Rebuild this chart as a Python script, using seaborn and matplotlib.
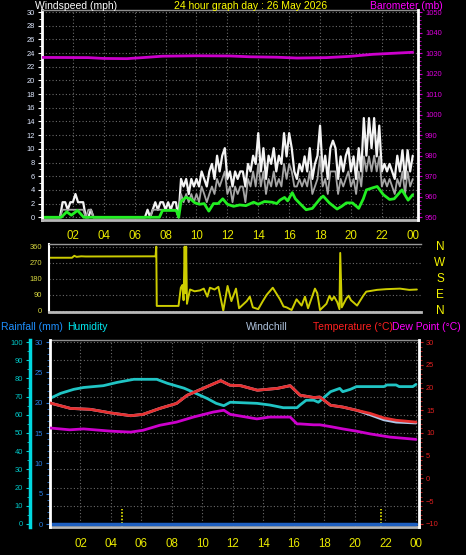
import numpy as np
import pandas as pd
import seaborn as sns
import matplotlib.pyplot as plt
from matplotlib.ticker import MultipleLocator

sns.set_style('dark')
plt.rcParams['font.family'] = ['Liberation Sans', 'DejaVu Sans']

# ---- windspeed, 10 minute samples (mph) ----
gust = [0, 0, 0, 0, 0, 0,            # 00
        0, 0, 2.2, 2.2, 1.1, 2.2,    # 01
        2.2, 3.4, 2.2, 2.2, 2.2, 0,  # 02
        0, 1.1, 0, 0, 0, 0,          # 03
        0, 0, 0, 0, 0, 0,            # 04
        0, 0, 0, 0, 0, 0,            # 05
        0, 0, 0, 0, 0, 1.1,          # 06
        0, 1.1, 2.2, 1.1, 2.2, 2.2,  # 07
        1.1, 2.2, 1.1, 2.2, 2.2, 0,  # 08
        5.6, 4.5, 5.6, 3.4, 5.6, 4.5,
        5.6, 4.5, 6.7, 5.6, 4.5, 6.7,
        7.8, 5.6, 9.0, 6.7, 9.0, 10.1,
        5.6, 6.7, 4.5, 6.7, 5.6, 6.7,
        6.7, 4.5, 7.8, 6.7, 9.0, 7.8,
        12.3, 6.7, 10.1, 5.6, 9.0, 7.8,
        10.1, 6.7, 9.0, 7.8, 12.3, 8.9,
        12.3, 10.1, 6.7, 5.6, 7.8, 6.7,
        8.9, 6.7, 10.1, 5.6, 7.8, 9.0,
        13.4, 6.7, 9.0, 5.6, 10.1, 11.2,
        10.1, 5.6, 8.9, 6.7, 9.0, 10.1,
        6.7, 8.9, 5.6, 10.1, 6.7, 14.5,
        9.0, 14.5, 10.1, 14.5, 8.9, 13.4,
        6.7, 7.8, 6.7, 7.8, 6.7, 5.6,
        9.0, 6.7, 9.8, 5.6, 9.8, 6.7,
        9.0]
speed = [0, 0, 0, 0, 0, 0,
         0, 0, 1.1, 1.1, 1.1, 1.1,
         1.1, 1.1, 1.1, 1.1, 1.1, 0,
         1.1, 1.1, 0, 0, 0, 0,
         0, 0, 0, 0, 0, 0,
         0, 0, 0, 0, 0, 0,
         0, 0, 0, 0, 0, 0,
         0, 1.1, 1.1, 1.1, 1.1, 1.1,
         1.1, 1.1, 1.1, 1.1, 1.1, 0,
         3.4, 2.2, 3.4, 2.2, 3.4, 2.2,
         3.4, 2.2, 4.5, 3.4, 2.2, 3.4,
         4.5, 3.4, 5.6, 4.5, 5.6, 6.7,
         3.4, 4.5, 2.2, 4.5, 3.4, 4.5,
         4.5, 2.2, 5.6, 4.5, 6.7, 4.5,
         7.8, 4.5, 6.7, 3.4, 5.6, 4.5,
         6.7, 4.5, 5.6, 4.5, 7.8, 5.6,
         7.8, 6.7, 4.5, 4.5, 5.6, 4.5,
         5.6, 4.5, 6.7, 3.4, 4.5, 5.6,
         8.9, 4.5, 5.6, 3.4, 6.7, 6.7,
         6.7, 3.4, 5.6, 4.5, 5.6, 6.7,
         4.5, 5.6, 3.4, 6.7, 4.5, 8.9,
         6.7, 8.9, 6.7, 9.0, 6.7, 8.9,
         4.5, 5.6, 4.5, 5.6, 4.5, 3.4,
         5.6, 4.5, 6.7, 3.4, 6.7, 4.5,
         5.6]
wind_hours = np.linspace(0, 24, len(gust))

avg_hours = [0, 1.25, 1.6, 1.9, 2.3, 2.7, 7.6, 7.8, 8.7, 8.85, 9.0, 9.3, 9.6, 9.9,
             10.2, 10.5, 10.8, 11.1, 11.4, 11.7, 12.0, 12.4, 12.8, 13.2, 13.7, 14.0,
             14.4, 14.9, 15.2, 15.4, 15.7, 15.9, 16.2, 16.4, 16.7, 17.1, 17.5, 18.0,
             18.2, 18.6, 19.1, 19.4, 19.7, 20.1, 20.5, 20.8, 21.0, 21.4, 21.7, 22.1,
             22.5, 22.8, 23.3, 23.7, 24.0]
avg_speed = [0, 0, 0.8, 0.3, 1.0, 0, 0, 1.0, 1.0, 0, 2.3, 2.9, 2.7, 2.1,
             1.9, 2.0, 0.9, 2.0, 2.0, 2.7, 1.9, 1.6, 1.8, 1.7, 2.2, 1.9,
             2.3, 2.2, 2.0, 2.5, 2.9, 2.4, 3.6, 2.7, 2.0, 1.1, 1.3, 2.7,
             3.1, 2.1, 1.2, 1.6, 2.1, 2.1, 1.3, 2.7, 4.0, 4.3, 4.5, 3.3,
             2.6, 2.7, 4.0, 2.5, 3.3]

baro_hours = [0, 3, 4, 5.5, 6.5, 7.8, 10, 12.2, 13.5, 15.2, 16.5, 18.4, 19.9, 21.4, 22.7, 24]
baro = [1027.9, 1027.8, 1027.4, 1027.3, 1027.8, 1028.5, 1028.7, 1028.6, 1028.2, 1028.0,
        1027.6, 1027.8, 1028.4, 1029.4, 1029.9, 1030.4]

# ---- wind direction (degrees) ----
dir_hours = [0.0, 1.5, 1.65, 1.8, 2.1, 2.4, 6.95, 7.0, 7.03, 8.45, 8.6, 8.7, 8.78, 8.85,
             8.9, 8.95, 9.0, 9.2, 9.5, 9.85, 10.1, 10.33, 10.5, 10.8, 11.05, 11.37, 11.65,
             11.9, 12.2, 12.4, 12.9, 13.1, 13.3, 13.65, 13.95, 14.2, 14.6, 15.07, 15.3,
             15.5, 15.83, 16.15, 16.48, 16.7, 16.9, 17.35, 17.5, 17.68, 18.1, 18.3, 18.45,
             18.6, 18.8, 18.95, 19.0, 19.1, 19.4, 19.55, 19.7, 20.1, 20.5, 20.7, 21.4,
             22.0, 22.9, 23.5, 24.0]
dir_deg = [298, 298, 309, 303, 306, 305, 306, 360, 28, 28, 130, 145, 60, 360,
           100, 360, 40, 120, 110, 115, 125, 80, 130, 120, 135, 2, 140,
           55, 125, 15, 55, 80, 20, 10, 55, 90, 130, 65, 25,
           20, 5, 65, 30, 80, 15, 125, 100, 5, 40, 85, 60,
           80, 50, 10, 325, 20, 70, 85, 60, 30, 85, 108, 118,
           122, 125, 118, 120]

# ---- temperature / humidity / dew point ----
temp_hours = [0, 1.35, 2.65, 4.0, 5.3, 6.1, 7.2, 8.3, 9.0, 10.1, 11.2, 11.8, 12.5, 13.6,
              14.9, 15.75, 16.4, 17.3, 17.7, 18.4, 19.2, 20.1, 21.0, 21.9, 22.7, 24.0]
temp = [16.6, 15.4, 15.2, 14.4, 13.8, 14.1, 15.4, 16.5, 18.3, 19.9, 21.5, 20.5, 20.4, 19.4,
        19.8, 20.4, 18.3, 17.8, 17.9, 16.1, 15.7, 15.0, 14.3, 13.3, 12.8, 12.4]
windchill = [16.6, 15.4, 15.2, 14.4, 13.8, 14.1, 15.4, 16.5, 18.3, 19.9, 21.5, 20.5, 20.4, 19.4,
             19.8, 20.4, 18.3, 17.8, 17.9, 16.1, 15.7, 15.0, 14.0, 12.9, 12.4, 12.2]
hum_hours = [0, 0.7, 1.56, 2.2, 3.5, 4.4, 5.5, 7.0, 7.7, 8.8, 9.4, 10.3, 10.9, 11.4, 11.82,
             13.57, 14.4, 15.3, 16.2, 16.4, 16.8, 17.3, 17.6, 17.9, 18.4, 19.0, 19.2, 19.7,
             20.1, 21.9, 22.1, 22.7, 22.9, 23.8, 24.0]
humidity = [69, 71.8, 74, 75, 76, 77.8, 79.5, 79.5, 77.3, 74.6, 72.4, 69, 66.3, 65, 66.9,
            66.3, 65.4, 63.9, 63.9, 65.4, 68, 68, 66.9, 69, 72.7, 74.5, 72.7, 74,
            75.5, 75.5, 76.4, 76.4, 75.5, 75.5, 76.7]
dew_hours = [0, 1.3, 2.2, 4.0, 5.3, 6.1, 7.2, 8.3, 9.4, 10.7, 11.4, 11.82, 13.57, 14.4,
             15.75, 16.2, 16.4, 17.3, 17.7, 18.4, 19.2, 20.1, 21.0, 22.3, 24.0]
dew = [11.1, 10.7, 10.9, 10.4, 10.2, 10.6, 11.7, 12.4, 13.5, 14.6, 15.0, 14.1, 13.1, 13.5,
       13.5, 12.0, 12.0, 11.8, 11.8, 11.4, 10.9, 10.4, 9.8, 9.1, 8.6]
rain_hours = [0, 24]
rain = [0, 0]
sun_marks = [4.75, 21.7]

hour_ticks = list(range(2, 25, 2))
hour_labels = ['%02d' % (h % 24) for h in hour_ticks]

W, H = 466, 555
def box(l, t, r, b):
    return [l / W, 1 - b / H, (r - l) / W, (b - t) / H]

def fx(x):
    return x / W

def fy(y):
    return 1 - y / H

fig = plt.figure(figsize=(W / 100, H / 100), dpi=100, facecolor='black')
grid_kw = dict(color='#6a6a6a', linestyle=(0, (1, 2)), linewidth=0.8)
yellow = '#e8e800'

def style_x(ax, pad):
    ax.set_xticks(hour_ticks)
    ax.set_xticklabels(hour_labels)
    ax.xaxis.set_minor_locator(MultipleLocator(1))
    ax.tick_params(axis='x', which='both', colors='#909090', labelcolor=yellow,
                   labelsize=8.3, length=2, pad=pad)

def clear_labels(*axes):
    for a in axes:
        a.set_xlabel('')
        a.set_ylabel('')

# ================= windspeed / barometer =================
ax_w = fig.add_axes(box(42, 10, 418, 220))
ax_w.set_facecolor('black')
ax_p = ax_w.twinx()

wind = pd.DataFrame({'hour': wind_hours, 'gust': gust, 'speed': speed})
sns.lineplot(data=wind, x='hour', y='gust', ax=ax_w, color='#f4f4f4', lw=1.6, estimator=None)
sns.lineplot(data=wind, x='hour', y='speed', ax=ax_w, color='#a6a6a6', lw=1.3, estimator=None)
sns.lineplot(x=avg_hours, y=avg_speed, ax=ax_w, color='#22ee22', lw=2, estimator=None)
sns.lineplot(x=baro_hours, y=baro, ax=ax_p, color='#cc00cc', lw=2, estimator=None)
clear_labels(ax_w, ax_p)

ax_w.set_xlim(0, 24.34)
ax_w.set_ylim(-0.4, 30.3)
ax_p.set_ylim(948.7, 1051)
ax_w.set_yticks(range(0, 31, 2))
ax_w.yaxis.set_minor_locator(MultipleLocator(1))
ax_p.set_yticks(range(950, 1051, 10))
ax_p.yaxis.set_minor_locator(MultipleLocator(2))
style_x(ax_w, 5)
ax_w.grid(True, which='major', **grid_kw)
ax_w.tick_params(axis='y', which='both', colors='white', labelcolor='#dfe8ff',
                 labelsize=5.4, length=3, pad=2)
ax_w.tick_params(axis='y', which='minor', length=2)
ax_p.tick_params(axis='y', which='both', colors='#cc00cc', labelcolor='#dd00dd',
                 labelsize=5.4, length=3, pad=2)
ax_p.tick_params(axis='y', which='minor', length=2)
for a in (ax_w, ax_p):
    for s in a.spines.values():
        s.set_visible(False)
ax_w.spines['left'].set(visible=True, color='white', linewidth=2)
ax_w.spines['top'].set(visible=True, color='#909090', linewidth=1)
ax_w.spines['bottom'].set(visible=True, color='#b8b8b8', linewidth=2)
ax_p.spines['right'].set(visible=True, color='white', linewidth=2)

# ================= wind direction =================
ax_d = fig.add_axes(box(49, 244, 421, 312))
ax_d.set_facecolor('black')
sns.lineplot(x=dir_hours, y=dir_deg, ax=ax_d, color='#cccc00', lw=1.4, estimator=None)
clear_labels(ax_d)
ax_d.set_xlim(0, 24.27)
ax_d.set_ylim(-6, 375)
ax_d.set_xticks([])
ax_d.set_yticks([0, 90, 180, 270, 360])
ax_d.yaxis.set_minor_locator(MultipleLocator(22.5))
ax_d.yaxis.grid(True, **grid_kw)
ax_d.xaxis.grid(False)
ax_d.tick_params(axis='y', which='both', colors='#c8c840', labelcolor='#d8d840',
                 labelsize=5.4, length=3, pad=2)
ax_d.tick_params(axis='y', which='minor', length=2)
for s in ax_d.spines.values():
    s.set_visible(False)
ax_d.spines['left'].set(visible=True, color='white', linewidth=1.5)
ax_d.spines['top'].set(visible=True, color='#9a9a9a', linewidth=1)
ax_d.spines['bottom'].set(visible=True, color='#b8b8b8', linewidth=2)
for deg, lab in zip([360, 270, 180, 90, 0], 'NWSEN'):
    ax_d.text(1.051, deg, lab, transform=ax_d.get_yaxis_transform(), color='#f4f400',
              fontsize=8.5, ha='center', va='center')

# ================= temperature / humidity / rain =================
ax_h = fig.add_axes(box(50, 340, 419, 527))
ax_h.set_facecolor('black')
ax_r = ax_h.twinx()
ax_t = ax_h.twinx()

sns.lineplot(x=hum_hours, y=humidity, ax=ax_h, color='#20c4c4', lw=2, estimator=None)
ax_h.vlines(sun_marks, -1.6, 8.2, colors=yellow, linestyles=(0, (1, 1)), lw=1.2)
sns.lineplot(x=rain_hours, y=rain, ax=ax_r, color='#1e5fc0', lw=2.5, estimator=None)
sns.lineplot(x=temp_hours, y=windchill, ax=ax_t, color='#b0c8e8', lw=2, estimator=None)
sns.lineplot(x=temp_hours, y=temp, ax=ax_t, color='#e63030', lw=2, estimator=None)
sns.lineplot(x=dew_hours, y=dew, ax=ax_t, color='#cc00cc', lw=2, estimator=None)
clear_labels(ax_h, ax_r, ax_t)

ax_h.set_xlim(0, 24.2)
ax_h.set_ylim(-1.65, 101.1)
ax_r.set_ylim(-0.49, 30.33)
ax_t.set_ylim(-10.66, 30.44)
style_x(ax_h, 6)
ax_h.set_yticks(range(0, 101, 10))
ax_h.yaxis.set_minor_locator(MultipleLocator(5))
ax_h.grid(True, which='major', **grid_kw)
ax_h.tick_params(axis='y', which='both', colors='#00d0d0', labelcolor='#00c8c8',
                 labelsize=5.4, length=3, pad=2)
ax_h.tick_params(axis='y', which='minor', length=2)

ax_r.yaxis.set_ticks_position('left')
ax_r.yaxis.set_label_position('left')
ax_r.set_yticks(range(0, 31, 5))
ax_r.yaxis.set_minor_locator(MultipleLocator(1))
ax_r.tick_params(axis='y', which='both', colors='#2a78d8', labelcolor='#2a80e8',
                 labelsize=5.4, length=3, pad=2)
ax_r.tick_params(axis='y', which='minor', length=2)

ax_t.set_yticks(range(-10, 31, 5))
ax_t.yaxis.set_minor_locator(MultipleLocator(1))
ax_t.tick_params(axis='y', which='both', colors='#d02020', labelcolor='#e02020',
                 labelsize=5.4, length=3, pad=2)
ax_t.tick_params(axis='y', which='minor', length=2)

for a in (ax_h, ax_r, ax_t):
    for s in a.spines.values():
        s.set_visible(False)
ax_h.spines['left'].set(visible=True, color='#00d8e0', linewidth=2.5, position=('axes', -0.054))
ax_h.spines['top'].set(visible=True, color='#909090', linewidth=1)
ax_h.spines['bottom'].set(visible=True, color='#b8b8b8', linewidth=2)
ax_r.spines['left'].set(visible=True, color='white', linewidth=2)
ax_t.spines['right'].set(visible=True, color='white', linewidth=2)

# ================= header texts =================
tk = dict(fontsize=7.5, va='center')
fig.text(fx(35), fy(6), 'Windspeed (mph)', color='white', **tk)
fig.text(fx(251), fy(6), '24 hour graph day : 26 May 2026', color='#ffff00', ha='center', **tk)
fig.text(fx(443), fy(6), 'Barometer (mb)', color='#ff00ff', ha='right', **tk)
fig.text(fx(1), fy(327), 'Rainfall (mm)', color='#1e90ff', **tk)
fig.text(fx(67), fy(327), 'Humidity', color='#00e8f0', **tk)
fig.text(fx(246), fy(327), 'Windchill', color='#b0c4de', **tk)
fig.text(fx(313), fy(327), 'Temperature (°C)', color='#ff2020', **tk)
fig.text(fx(461), fy(327), 'Dew Point (°C)', color='#ff00ff', ha='right', **tk)

fig.savefig('out.png', dpi=100, facecolor='black')
